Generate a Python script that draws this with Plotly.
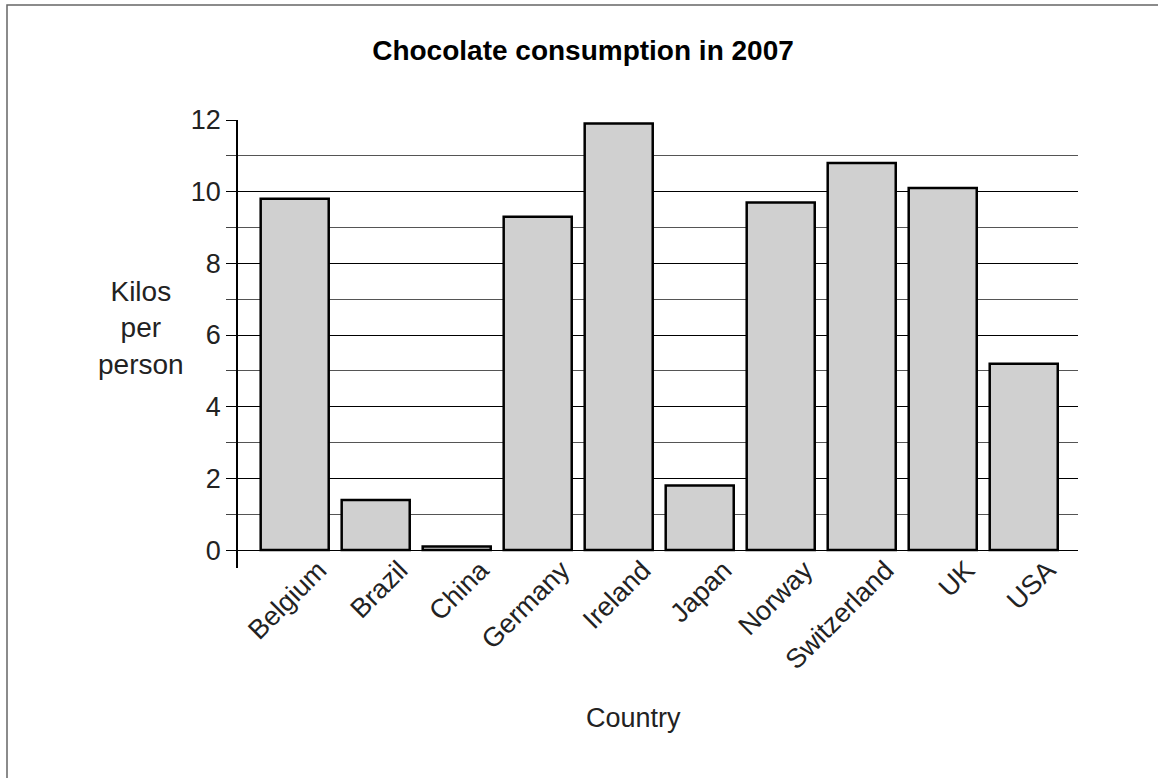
import plotly.graph_objects as go

countries = ["Belgium", "Brazil", "China", "Germany", "Ireland", "Japan",
             "Norway", "Switzerland", "UK", "USA"]
kilos = [9.8, 1.4, 0.1, 9.3, 11.9, 1.8, 9.7, 10.8, 10.1, 5.2]
y_ticks = [0, 2, 4, 6, 8, 10, 12]

FONT = "Liberation Sans, Arial, sans-serif"
W, H = 1158, 778
L, R, T, B = 238, 80, 120, 210
PW, PH = W - L - R, H - T - B

fig = go.Figure()
fig.add_trace(go.Bar(
    x=list(range(len(countries))),
    y=kilos,
    width=0.84,
    marker=dict(color="#d0d0d0", line=dict(color="black", width=2.5)),
    showlegend=False,
))

fig.update_layout(
    width=W, height=H,
    margin=dict(l=L, r=R, t=T, b=B),
    paper_bgcolor="white", plot_bgcolor="white",
    font=dict(family=FONT, color="#222", size=26),
    title=dict(text="<b>Chocolate consumption in 2007</b>", x=583 / W, xref="container",
               xanchor="center", y=1 - 50 / H, yref="container", yanchor="middle",
               font=dict(size=28, color="black", family=FONT)),
    xaxis=dict(
        range=[-0.7, 9.67],
        tickmode="array", tickvals=list(range(len(countries))), ticktext=countries,
        tickangle=-45, showgrid=False, showline=False, zeroline=False,
        ticks="", tickfont=dict(size=27, family=FONT, color="#222"),
        ticklabelshift=24, ticklabelstandoff=-20,
    ),
    yaxis=dict(
        range=[-0.5, 12],
        tickmode="array", tickvals=y_ticks,
        showline=True, linecolor="black", linewidth=1.5,
        ticks="outside", ticklen=10, tickcolor="black", tickwidth=1,
        showgrid=True, gridcolor="black", gridwidth=1,
        zeroline=False,
        tickfont=dict(size=27, family=FONT, color="#222"),
        minor=dict(dtick=1, tick0=0, ticks="outside", ticklen=10, tickcolor="#444",
                   showgrid=True, gridcolor="#555", gridwidth=1),
    ),
    shapes=[dict(type="rect", xref="paper", yref="paper",
                 x0=(7 - L) / PW, x1=(1200 - L) / PW,
                 y0=-(820 - (T + PH)) / PH, y1=((T + PH) - 5) / PH,
                 line=dict(color="#666", width=1.5), fillcolor="rgba(0,0,0,0)",
                 layer="below")],
    annotations=[
        dict(text="Kilos<br>per<br>person", xref="paper", yref="paper",
             x=(141 - L) / PW, y=((T + PH) - 328) / PH, xanchor="center", yanchor="middle",
             showarrow=False, align="center",
             font=dict(size=28, family=FONT, color="#222")),
        dict(text="Country", xref="paper", yref="paper",
             x=(633 - L) / PW, y=((T + PH) - 718) / PH, xanchor="center", yanchor="middle",
             showarrow=False, font=dict(size=27, family=FONT, color="#222")),
    ],
)

fig.write_html("out.html", config={"displayModeBar": False},
               post_script="document.body.style.margin='0';document.body.style.overflow='hidden';")
